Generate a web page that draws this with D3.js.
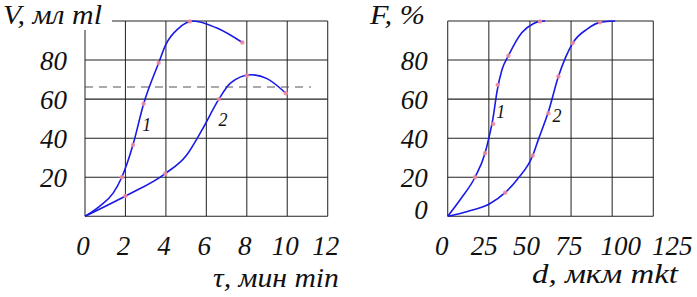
<!DOCTYPE html>
<html><head><meta charset="utf-8">
<script src="https://cdn.jsdelivr.net/npm/d3@7"></script>
<style>body{margin:0;background:#fff}svg{display:block}</style>
</head><body><svg id="c" width="697" height="297"></svg>
<script>
// ---- Left chart: V vs tau ----
const leftXTicks = [0,2,4,6,8,10,12];
const leftYTicks = [20,40,60,80];
const leftCurve1 = [[0,0],[0.7,5],[1.4,12],[1.82,20],[2.37,36.5],[2.9,57.6],[3.64,78.5],[4.0,88],[4.6,96],[5.35,100],[6.5,96.5],[7.78,89]];
const leftMarks1 = [[1.82,20],[2.37,36.5],[2.9,57.6],[3.64,78.5],[5.18,99.8],[7.78,89]];
const leftCurve2 = [[0,0],[2,10.4],[3.97,21.9],[5.0,31],[5.8,44.5],[6.62,60],[7.19,68.2],[8.2,72.5],[9.0,70.5],[9.93,63]];
const leftMarks2 = [[2,10.4],[3.97,21.9],[6.62,60],[8.0,72.1],[9.93,63]];
const leftDashed = [[0,66.2],[11.17,66.2]];
const leftCurveLabels = [["1",3.05,46.8],["2",6.82,49.6]];
const leftYTitle = "V, мл ml";
const leftXTitle = "τ, мин min";

// ---- Right chart: F vs d ----
const rightXTicks = [0,25,50,75,100,125];
const rightYTicks = [0,20,40,60,80];
const rightCurve1 = [[0,0],[8,9],[16.6,20],[22.7,32.3],[25,40],[27.5,50],[30,64],[33,75],[36.9,82.2],[45,94],[52,98.6],[56.1,99.8],[59.2,100]];
const rightMarks1 = [[16.6,20],[22.7,32.3],[27.7,47.3],[30.4,67.3],[36.9,82.2],[56.1,99.8]];
const rightCurve2 = [[0,0],[12,2.5],[25.3,6.3],[34.9,12.1],[42,18.6],[51.7,31.1],[55,39],[61.2,53.5],[67.3,71.6],[72,82],[76,88.7],[85,96],[92.6,99.3],[101.8,100]];
const rightMarks2 = [[34.9,12.1],[51.7,31.1],[61.2,52.8],[67.3,71.6],[76,88.7],[92.6,99.3]];
const rightCurveLabels = [["1",32.3,53.4],["2",66.5,51.6]];
const rightYTitle = "F, %";
const rightXTitle = "d, мкм mkt";

const svg = d3.select("#c");
const FONT = "'Liberation Serif', 'Times New Roman', serif";
const yScale = d3.scaleLinear().domain([0,100]).range([216.3,21]);
const FS = 27;

function txt(g){
  return g.append("text").attr("font-family",FONT).attr("font-style","italic").attr("fill","#111");
}
// text stretched horizontally to a given width
function stretched(g, s, x, y, w, fs){
  const t = txt(g).attr("x",0).attr("y",0).attr("font-size",fs).text(s);
  const nat = t.node().getComputedTextLength();
  t.attr("transform",`translate(${x},${y}) scale(${w/nat},1)`);
}

function panel(o){
  const g = svg.append("g");
  const x = o.x, y = yScale;
  const [x0,x1] = x.range();
  o.gridX.forEach(v=>{
    g.append("line").attr("x1",x(v)).attr("x2",x(v)).attr("y1",y(0)).attr("y2",y(100))
     .attr("stroke", "#333").attr("stroke-width",1.1);
  });
  [0,20,40,60,80,100].forEach(v=>{
    g.append("line").attr("x1",x0).attr("x2",x1).attr("y1",y(v)).attr("y2",y(v))
     .attr("stroke","#222").attr("stroke-width",1.1);
  });
  if(o.mask){
    g.append("rect").attr("x",0).attr("y",0).attr("width",o.mask[0]).attr("height",o.mask[1]).attr("fill","#fff");
  }
  if(o.dashed){
    g.append("path").attr("d",d3.line().x(d=>x(d[0])).y(d=>y(d[1]))(o.dashed))
     .attr("stroke","#555").attr("stroke-width",1).attr("stroke-dasharray","8,6").attr("fill","none");
  }
  const line = d3.line().x(d=>x(d[0])).y(d=>y(d[1])).curve(d3.curveMonotoneX);
  [o.c1,o.c2].forEach(c=>{
    g.append("path").attr("d",line(c)).attr("fill","none").attr("stroke","#1a1ae6").attr("stroke-width",1.6);
  });
  [o.m1,o.m2].forEach(m=>{
    g.selectAll(null).data(m).enter().append("circle")
     .attr("cx",d=>x(d[0])).attr("cy",d=>y(d[1])).attr("r",2.2).attr("fill","#f28a9e").attr("opacity",0.9);
  });
  o.curveLabels.forEach(d=>{
    txt(g).attr("x",x(d[1])).attr("y",y(d[2])).attr("dy","0.35em").attr("text-anchor","middle")
     .attr("font-size",18).text(d[0]);
  });
  o.yTicks.forEach(d=>{
    txt(g).attr("x",x0-o.yLabGap).attr("y",y(d)).attr("dy",d===0?"0.1em":"0.35em")
     .attr("text-anchor","end").attr("font-size",FS).text(d);
  });
  o.xTicks.forEach(d=>{
    txt(g).attr("x",o.xl(d)).attr("y",254.5).attr("text-anchor","middle").attr("font-size",FS).text(d);
  });
  stretched(g, o.yTitle[0], o.yTitle[1], 24, o.yTitle[2], FS);
  stretched(g, o.xTitle[0], o.xTitle[1], o.xTitle[2], o.xTitle[3], FS);
}

const xL = d3.scaleLinear().domain([0,12]).range([85,327.7]);
panel({
  x:xL, gridX:[0,2,4,6,8,10,12], c1:leftCurve1, c2:leftCurve2, m1:leftMarks1, m2:leftMarks2,
  dashed:leftDashed, curveLabels:leftCurveLabels, yTicks:leftYTicks, xTicks:leftXTicks,
  xl:d=>xL(d)-2, yLabGap:18, yTitle:[leftYTitle,3,99], xTitle:[leftXTitle,213,287,126], mask:[112,30]
});
const xR = d3.scaleLinear().domain([0,125]).range([447.7,653.3]);
const xRlab = d3.scaleLinear().domain([0,75,125]).range([xR(0)-6, xR(75)-2, xR(125)+19]);
panel({
  x:xR, gridX:[0,25,50,75,100,125], c1:rightCurve1, c2:rightCurve2, m1:rightMarks1, m2:rightMarks2,
  dashed:null, curveLabels:rightCurveLabels, yTicks:rightYTicks, xTicks:rightXTicks,
  xl:d=>xRlab(d), yLabGap:20, yTitle:[rightYTitle,370,55], xTitle:[rightXTitle,532,283,146], mask:null
});
</script></body></html>
